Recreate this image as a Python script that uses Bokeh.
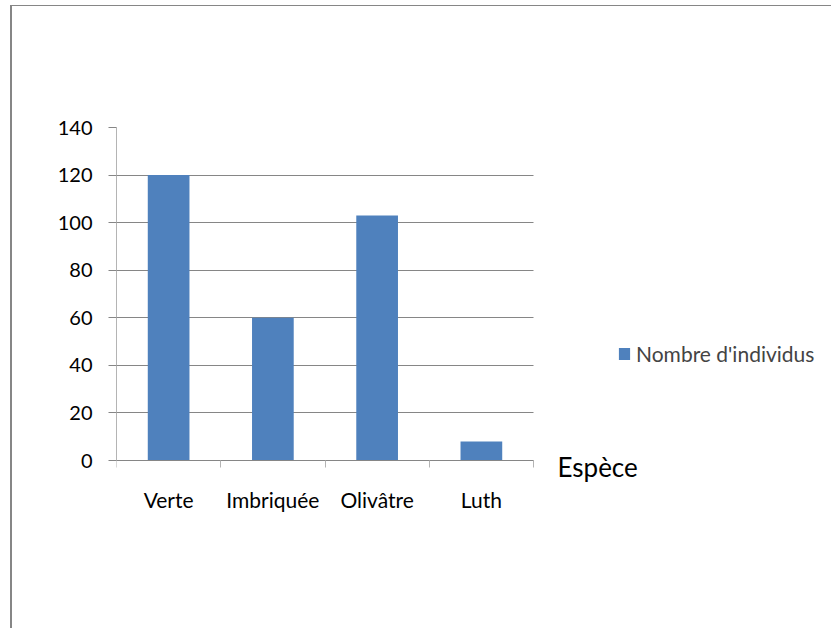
from bokeh.plotting import figure
from bokeh.models import (ColumnDataSource, FixedTicker, Legend, LegendItem,
                          Label, Range1d)
from bokeh.embed import file_html
from bokeh.resources import INLINE

# Nombre d'individus observés par espèce de tortue marine
categories = ["Verte", "Imbriquée", "Olivâtre", "Luth"]
counts = [120, 60, 103, 8]
y_ticks = [0, 20, 40, 60, 80, 100, 120, 140]
series_name = "Nombre d'individus"
x_title = "Espèce"

BAR = "#4F81BD"
GRID = "#868686"
LIGHT = "#b4b4b4"
FONT = "Lato"

W, H = 831, 628
# pixel layout of the chart area inside the canvas
PLOT_LEFT, PLOT_RIGHT = 116, 533
PLOT_TOP, ZERO_Y = 127, 460
BOTTOM_BORDER = 68
FRAME_BOTTOM = H - BOTTOM_BORDER

n = len(categories)
centers = [i + 0.5 for i in range(n)]
bounds = list(range(n + 1))
y_max = y_ticks[-1]

# the frame runs to the right edge and below the zero line so that the
# axis title and legend can sit inside it; grid and axes are bounded
px_per_cat = (PLOT_RIGHT - PLOT_LEFT) / n
px_per_unit = (ZERO_Y - PLOT_TOP) / y_max
x_end = (W - PLOT_LEFT) / px_per_cat
y_start = -(FRAME_BOTTOM - ZERO_Y) / px_per_unit

p = figure(width=W, height=H,
           x_range=Range1d(0, x_end), y_range=Range1d(y_start, y_max),
           output_backend="svg", toolbar_location=None,
           min_border_left=PLOT_LEFT, min_border_right=0,
           min_border_top=PLOT_TOP, min_border_bottom=BOTTOM_BORDER)
p.border_fill_color = None
p.background_fill_color = "white"
p.outline_line_color = None
p.styles = {
    "background": (f"linear-gradient({GRID},{GRID}) 10px 5px / 2px 623px no-repeat, "
                   f"linear-gradient({GRID},{GRID}) 10px 5px / 821px 1px no-repeat, white"),
}

src = ColumnDataSource(dict(x=centers, top=counts, cat=categories))
bars = p.vbar(x="x", top="top", width=0.4, source=src,
              fill_color=BAR, line_color=None)

# x axis on the zero line: labels at category centres, small ticks at boundaries
xa = p.xaxis[0]
xa.fixed_location = 0
xa.bounds = (0, n)
xa.ticker = FixedTicker(ticks=centers, minor_ticks=bounds)
xa.major_label_overrides = {c: name for c, name in zip(centers, categories)}
xa.major_tick_in = 0
xa.major_tick_out = 0
xa.minor_tick_in = 0
xa.minor_tick_out = 7
xa.minor_tick_line_color = LIGHT
xa.axis_line_color = GRID
xa.major_label_standoff = 19
xa.major_label_text_font = FONT
xa.major_label_text_font_size = "21px"
xa.major_label_text_color = "black"

ya = p.yaxis[0]
ya.bounds = (0, y_max)
ya.ticker = FixedTicker(ticks=y_ticks, minor_ticks=[])
ya.major_tick_in = 0
ya.major_tick_out = 8
ya.major_tick_line_color = GRID
ya.axis_line_color = LIGHT
ya.major_label_standoff = 16
ya.major_label_text_font = FONT
ya.major_label_text_font_size = "20px"
ya.major_label_text_color = "black"

p.xgrid.visible = False
p.ygrid.ticker = FixedTicker(ticks=y_ticks)
p.ygrid.cross_bounds = (0, n)
p.ygrid.grid_line_color = GRID

p.add_layout(Label(x=n, y=0, text=x_title, x_offset=24, y_offset=-6,
                   text_baseline="middle", text_font=FONT,
                   text_font_size="26px", text_color="black"))

legend = Legend(items=[LegendItem(label=series_name, renderers=[bars])],
                location=(501, FRAME_BOTTOM - 366), glyph_width=14, glyph_height=15,
                label_standoff=5, padding=0, margin=0,
                border_line_color=None, background_fill_alpha=0,
                label_text_font=FONT, label_text_font_size="21px")
p.add_layout(legend)

open("out.html", "w").write(file_html(p, INLINE))
